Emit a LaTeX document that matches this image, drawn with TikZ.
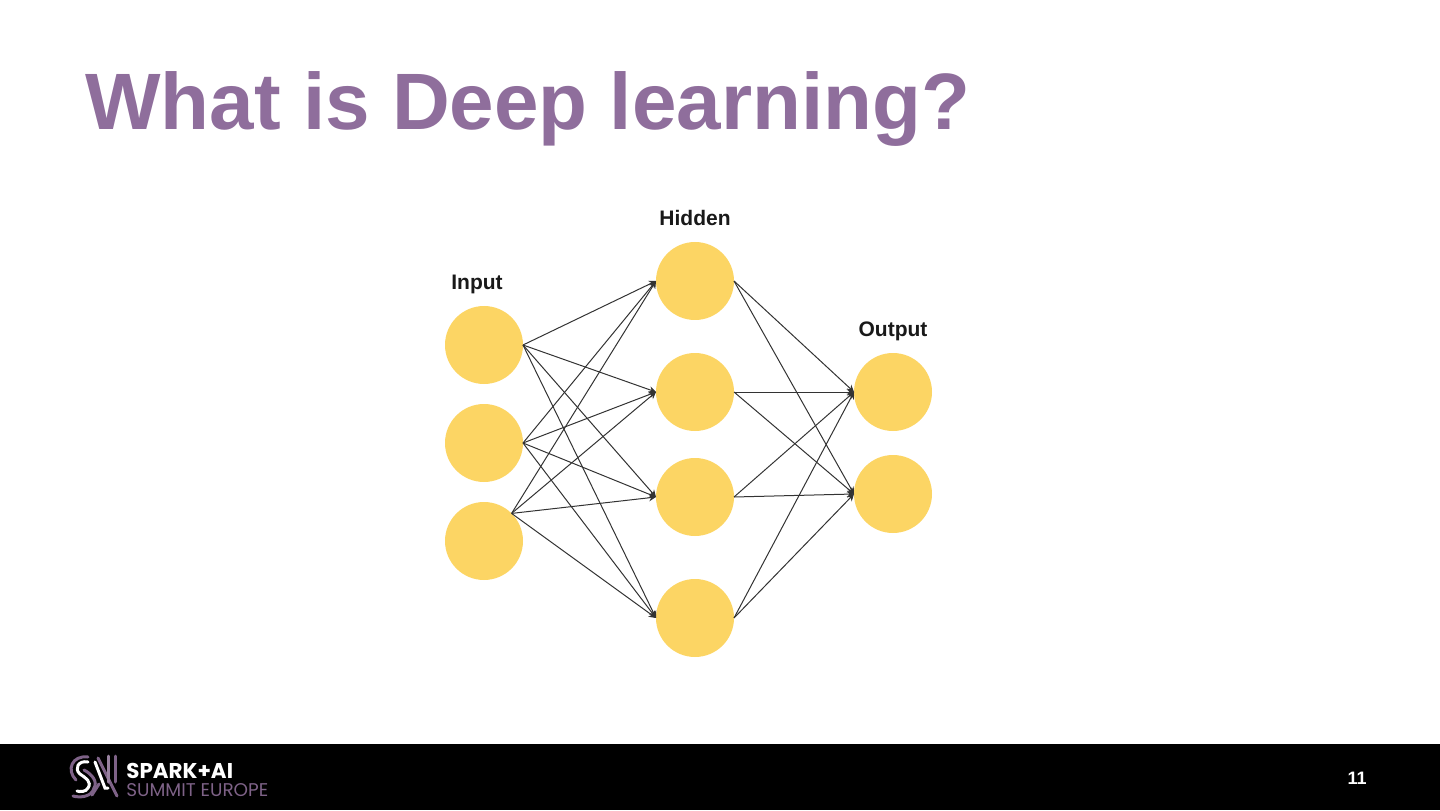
\documentclass[tikz,border=0pt]{standalone}
\usepackage{fontspec}
\setmainfont{Liberation Sans}
\newfontfamily\logofont{Poppins}
\usepackage{xcolor}
\usetikzlibrary{arrows.meta, positioning, calc}
\definecolor{slidepurple}{HTML}{8F6E9C}
\definecolor{logopurple}{HTML}{7E6287}
\definecolor{neuronyellow}{HTML}{FCD564}
\tikzset{
    neuron/.style={
        circle,
        fill=neuronyellow,
        inner sep=0pt,
        outer sep=0pt,
        minimum size=39pt
    },
    layerlabel/.style={
        font=\fontsize{10.5}{12}\selectfont\bfseries,
        text=black!90,
        inner sep=0pt
    },
    line/.style={
        draw,
        -{Stealth[length=3.5pt,width=3.5pt]},
        line width=0.5pt,
        color=black!80
    },
    logostroke/.style={
        line width=1.5pt,
        line cap=round
    }
}
\begin{document}
\begin{tikzpicture}
    \useasboundingbox (0pt,0pt) rectangle (720pt,405pt);

    % Footer bar
    \fill[black] (0pt,0pt) rectangle (720pt,33pt);

    % Title
    \node (title) [anchor=base west, inner sep=0pt, text=slidepurple, font=\fontsize{40}{48}\selectfont\bfseries]
        at (42.5pt,340pt) {What is Deep learning?};

    % Input layer
    \node (i1) [neuron] at (242pt,232.5pt) {};
    \node (i2) [neuron, below=10pt of i1] {};
    \node (i3) [neuron, below=10pt of i2] {};

    % Hidden layer
    \node (h1) [neuron] at (347.5pt,264.5pt) {};
    \node (h2) [neuron, below=16.5pt of h1] {};
    \node (h3) [neuron, below=13.5pt of h2] {};
    \node (h4) [neuron, below=21.5pt of h3] {};

    % Output layer
    \node (o1) [neuron] at (446.5pt,209pt) {};
    \node (o2) [neuron, below=12pt of o1] {};

    % Layer labels
    \node (linput) [layerlabel] at (238.5pt,263pt) {Input};
    \node (lhidden) [layerlabel] at (347.5pt,296pt) {Hidden};
    \node (loutput) [layerlabel] at (446.5pt,239.5pt) {Output};

    % Connections
    \draw [line] (i1.east) -- (h1.west);
    \draw [line] (i1.east) -- (h2.west);
    \draw [line] (i1.east) -- (h3.west);
    \draw [line] (i1.east) -- (h4.west);
    \draw [line] (i2.east) -- (h1.west);
    \draw [line] (i2.east) -- (h2.west);
    \draw [line] (i2.east) -- (h3.west);
    \draw [line] (i2.east) -- (h4.west);
    \draw [line] (i3.45) -- (h1.west);
    \draw [line] (i3.45) -- (h2.west);
    \draw [line] (i3.45) -- (h3.west);
    \draw [line] (i3.45) -- (h4.west);
    \draw [line] (h1.east) -- (o1.west);
    \draw [line] (h1.east) -- (o2.west);
    \draw [line] (h2.east) -- (o1.west);
    \draw [line] (h2.east) -- (o2.west);
    \draw [line] (h3.east) -- (o1.west);
    \draw [line] (h3.east) -- (o2.west);
    \draw [line] (h4.east) -- (o1.west);
    \draw [line] (h4.east) -- (o2.west);

    % Logo mark
    \draw [logostroke, logopurple] (44pt,26.5pt) .. controls (36pt,27.5pt) and (33pt,20pt) .. (38pt,15pt);
    \draw [logostroke, logopurple] (42pt,20pt) .. controls (46pt,18pt) and (49pt,14pt) .. (47pt,11pt) .. controls (46pt,6.5pt) and (40pt,6pt) .. (36.5pt,7pt);
    \draw [logostroke, white] (44pt,24pt) .. controls (39pt,25pt) and (37pt,20.5pt) .. (40pt,18pt) .. controls (43pt,16pt) and (46pt,14pt) .. (44pt,11pt) .. controls (43pt,9pt) and (40pt,9pt) .. (38.5pt,9.5pt);
    \draw [logostroke, logopurple] (49pt,26pt) -- (58.5pt,7pt) (46pt,7.5pt) -- (49.5pt,13pt);
    \draw [logostroke, white] (47.5pt,24pt) -- (52.5pt,11pt) -- (54pt,11pt);
    \draw [logostroke, logopurple!80!white] (54pt,27pt) -- (54pt,14pt);
    \draw [logostroke, logopurple] (57.5pt,27pt) -- (57.5pt,14pt);

    % Logo text and slide number
    \node (spark) [anchor=base west, inner sep=0pt, text=white, font=\logofont\fontsize{10.7}{12}\selectfont\bfseries]
        at (63pt,16pt) {SPARK+AI};
    \node (summit) [anchor=base west, inner sep=0pt, text=logopurple, font=\logofont\fontsize{9.2}{11}\selectfont]
        at (63pt,7pt) {SUMMIT EUROPE};
    \node (page) [inner sep=0pt, text=white, font=\fontsize{9}{11}\selectfont\bfseries] at (678.5pt,16pt) {11};

\end{tikzpicture}
\end{document}
